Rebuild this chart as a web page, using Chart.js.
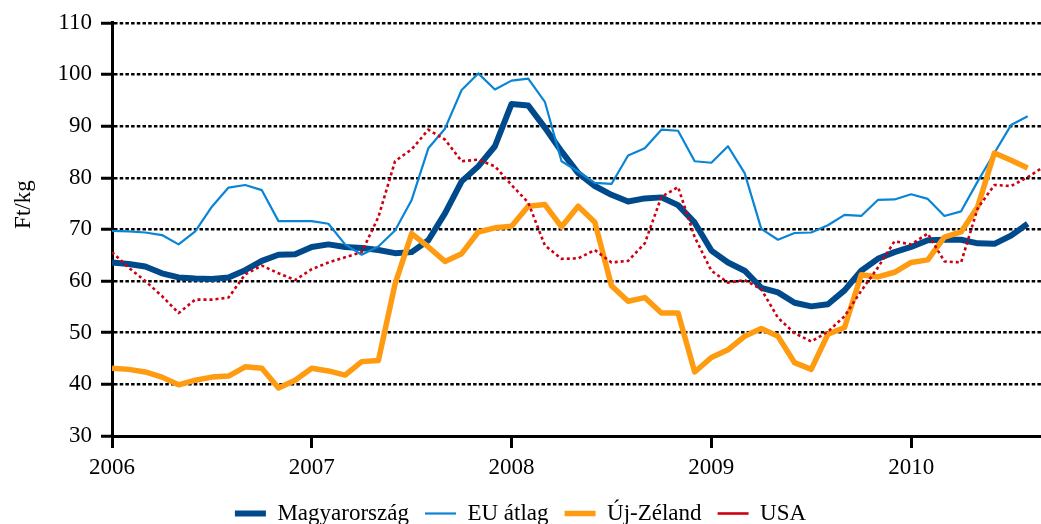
<!DOCTYPE html>
<html>
<head>
<meta charset="utf-8">
<script src="https://cdn.jsdelivr.net/npm/chart.js@4"></script>
<style>
html, body { margin: 0; padding: 0; background: #fff; }
</style>
</head>
<body>
<canvas id="chart" width="1041" height="524"></canvas>
<script>
// monthly prices, Jan 2006 onwards
var years = ['2006', '2007', '2008', '2009', '2010'];
var seriesNames = ['Magyarország', 'EU átlag', 'Új-Zéland', 'USA'];
var yTitle = 'Ft/kg';

var magyar = [63.6, 63.3, 62.8, 61.5, 60.7, 60.5, 60.4, 60.7, 62.1, 63.9, 65.1, 65.2,
              66.6, 67.1, 66.6, 66.4, 66.0, 65.4, 65.6, 67.9, 73.1, 79.3, 82.2, 86.1,
              94.3, 94.0, 89.7, 85.1, 80.9, 78.4, 76.7, 75.4, 76.0, 76.2, 74.7, 71.3,
              65.9, 63.6, 62.0, 58.7, 57.8, 55.8, 55.1, 55.5, 58.2, 62.0, 64.3, 65.6,
              66.6, 67.9, 68.0, 68.0, 67.3, 67.2, 68.8, 71.1];
var euAtlag = [69.7, 69.6, 69.4, 68.9, 67.1, 69.6, 74.4, 78.1, 78.6, 77.6, 71.6, 71.6,
               71.6, 71.1, 67.1, 65.1, 66.7, 69.8, 75.7, 85.7, 89.5, 97.0, 100.2, 97.1,
               98.8, 99.2, 94.7, 83.2, 81.2, 79.0, 78.8, 84.3, 85.7, 89.3, 89.1, 83.2,
               82.9, 86.1, 80.9, 70.1, 68.0, 69.3, 69.4, 70.8, 72.8, 72.6, 75.7, 75.8,
               76.8, 75.9, 72.6, 73.5, 79.3, 84.8, 90.2, 91.9];
var ujZeland = [43.1, 42.9, 42.4, 41.4, 39.9, 40.8, 41.4, 41.6, 43.4, 43.1, 39.3, 40.8,
                43.1, 42.6, 41.8, 44.4, 44.6, 59.4, 69.2, 66.6, 63.8, 65.3, 69.5, 70.3,
                70.6, 74.5, 74.8, 70.5, 74.5, 71.4, 59.1, 56.1, 56.8, 53.8, 53.8, 42.4,
                45.2, 46.7, 49.3, 50.8, 49.3, 44.2, 42.9, 49.7, 51.0, 61.2, 60.8, 61.7,
                63.6, 64.1, 68.5, 69.5, 74.4, 84.8, 83.4, 81.9];
var usa = [65.6, 62.6, 60.0, 57.1, 53.8, 56.4, 56.4, 56.8, 61.3, 63.0, 61.5, 60.2,
           62.3, 63.6, 64.6, 65.6, 72.4, 83.2, 85.5, 89.3, 87.4, 83.2, 83.5, 82.2,
           78.6, 75.2, 66.9, 64.3, 64.4, 66.0, 63.6, 63.9, 67.3, 76.3, 78.2, 68.5,
           62.0, 59.7, 60.2, 58.4, 52.9, 49.9, 48.3, 50.2, 53.2, 58.1, 62.6, 67.7,
           67.1, 69.2, 63.8, 63.6, 74.1, 78.6, 78.4, 80.1, 82.2];

function toPoints(arr) {
    return arr.map(function (v, i) { return { x: i, y: v }; });
}

var serif = "'Liberation Serif', 'Times New Roman', serif";
Chart.defaults.font.family = serif;
Chart.defaults.font.size = 23;
Chart.defaults.color = '#000';

// axis title sits a bit above the middle of the axis, like the original
var yTitlePlugin = {
    id: 'yTitle',
    afterDraw: function (chart) {
        var c = chart.ctx, area = chart.chartArea;
        c.save();
        c.translate(24, area.top + area.height * 0.44);
        c.rotate(-Math.PI / 2);
        c.font = '23px ' + serif;
        c.fillStyle = '#000';
        c.textAlign = 'center';
        c.textBaseline = 'middle';
        c.fillText(yTitle, 0, 0);
        c.restore();
    }
};

var ctx = document.getElementById('chart').getContext('2d');
var chart = new Chart(ctx, {
    type: 'line',
    data: {
        datasets: [
            { label: seriesNames[0], data: toPoints(magyar), borderColor: '#004a8c', backgroundColor: '#004a8c', borderWidth: 6, order: 4 },
            { label: seriesNames[1], data: toPoints(euAtlag), borderColor: '#0a85d5', backgroundColor: '#0a85d5', borderWidth: 2.2, order: 3 },
            { label: seriesNames[2], data: toPoints(ujZeland), borderColor: '#fe9b10', backgroundColor: '#fe9b10', borderWidth: 5.5, order: 2 },
            { label: seriesNames[3], data: toPoints(usa), borderColor: '#cc0011', backgroundColor: '#cc0011', borderWidth: 2.6, borderDash: [3, 3], order: 1 }
        ]
    },
    options: {
        responsive: false,
        animation: false,
        devicePixelRatio: 1,
        layout: { padding: { top: 21, right: 0, bottom: -11, left: 0 } },
        elements: {
            point: { radius: 0 },
            line: { tension: 0, borderJoinStyle: 'round', fill: false }
        },
        plugins: {
            tooltip: { enabled: false },
            legend: {
                position: 'bottom',
                labels: {
                    usePointStyle: true,
                    pointStyle: 'line',
                    pointStyleWidth: 31,
                    padding: 16,
                    sort: function (a, b) { return a.datasetIndex - b.datasetIndex; }
                }
            }
        },
        scales: {
            x: {
                type: 'linear',
                min: 0,
                max: 55.8,
                afterFit: function (s) { s.height = 50; },
                ticks: {
                    stepSize: 12,
                    includeBounds: false,
                    autoSkip: false,
                    maxRotation: 0,
                    padding: 6,
                    callback: function (v) { return years[v / 12] || ''; }
                },
                grid: { drawOnChartArea: false, drawTicks: true, tickLength: 12, tickWidth: 3, tickColor: '#000' },
                border: { display: true, color: '#000', width: 3 }
            },
            y: {
                min: 30,
                max: 110,
                afterFit: function (s) { s.width = 112; },
                ticks: { stepSize: 10, padding: 9 },
                grid: { color: '#000', lineWidth: 2.5, tickLength: 11, tickWidth: 3, tickColor: '#000', tickBorderDash: [] },
                border: { display: true, color: '#000', width: 3, dash: [3.5, 2.2] }
            }
        }
    },
    plugins: [yTitlePlugin]
});
</script>
</body>
</html>
